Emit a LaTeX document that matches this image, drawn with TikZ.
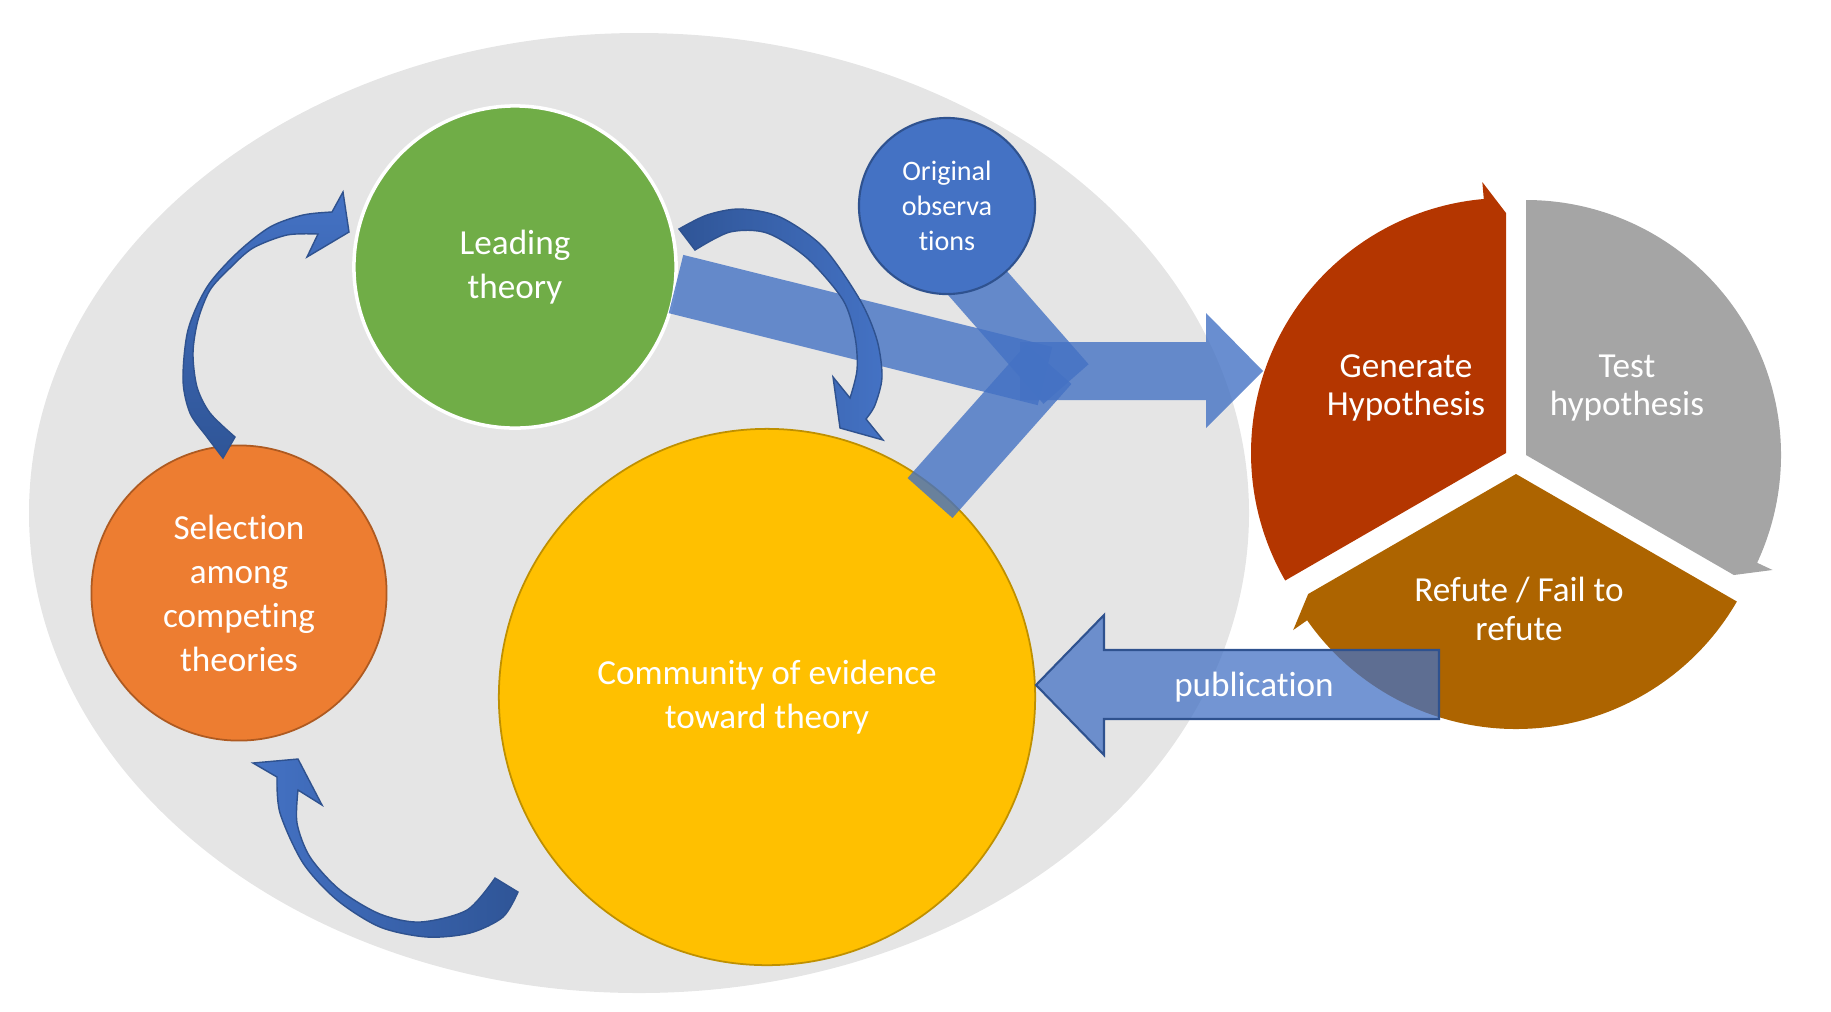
\documentclass[tikz,border=0pt]{standalone}
\usepackage{fontspec}
\setmainfont{Carlito}[Ligatures=NoCommon]
\usepackage{xcolor}
\usepackage{tikz}

\definecolor{accblue}{HTML}{4472C4}
\definecolor{accdark}{HTML}{2F528F}
\definecolor{arrdark}{HTML}{2F5597}
\definecolor{leadgreen}{HTML}{70AD47}
\definecolor{selorange}{HTML}{ED7D31}
\definecolor{selborder}{HTML}{AE5A21}
\definecolor{commyellow}{HTML}{FFC000}
\definecolor{commborder}{HTML}{BF9000}
\definecolor{bggray}{HTML}{E5E5E5}
\definecolor{genred}{HTML}{B43600}
\definecolor{testgray}{HTML}{A5A5A5}
\definecolor{refbrown}{HTML}{AD6400}

\begin{document}
\begin{tikzpicture}[
    x=0.01cm, y=-0.01cm,
    bubble/.style={circle,inner sep=0pt,text=white,align=center,
                   font=\fontsize{10}{12.5}\selectfont},
    band/.style={draw=accblue,draw opacity=0.8,line width=0.6cm},
    bigarrow/.style={fill=accblue,fill opacity=0.8},
    curvy/.style={draw=accdark,line width=0.4pt},
    slicetext/.style={text=white,align=center,font=\fontsize{10}{11}\selectfont},
  ]
  \useasboundingbox (0,0) rectangle (1831,1011);

  % --- background ---
  \fill[bggray] (639,513) ellipse [x radius=610, y radius=480];

  % --- theory circles ---
  \node[bubble,fill=leadgreen,draw=white,line width=1pt,minimum size=3.22cm]
        (lead) at (515,267) {Leading\\theory};
  \node[bubble,fill=selorange,draw=selborder,line width=0.5pt,minimum size=2.95cm]
        (sel) at (239,593) {Selection\\among\\competing\\theories};
  \node[bubble,fill=commyellow,draw=commborder,line width=0.5pt,minimum size=5.36cm]
        (comm) at (767,697) {Community of evidence\\toward theory};

  % --- bands into the cycle ---
  \coordinate (gtail) at (676,284);
  \coordinate (ghead) at (1045,376);
  \coordinate (otail) at (910,206);
  \coordinate (ohead) at (1066,384);
  \coordinate (ctail) at (930,498);
  \coordinate (chead) at (1049,364);
  \draw[band] (gtail) -- (ghead);
  \draw[band] (ctail) -- (chead);
  \draw[band] (otail) -- (ohead);

  \node[bubble,fill=accblue,draw=accdark,line width=0.6pt,minimum size=1.76cm,
        font=\fontsize{8}{9.9}\selectfont]
        (obs) at (947,206) {Original\\observa\\tions};

  \path[bigarrow] (1020,342) -- (1206,342) -- (1206,313) -- (1263,371)
                  -- (1206,428) -- (1206,400) -- (1020,400) -- cycle;

  % --- hypothesis cycle ---
  \begin{scope}[shift={(1506,453)}]
    \fill[genred] (150:255) arc[start angle=150,end angle=265,radius=255]
      -- (265:272) -- (270:240) -- (0,0) -- cycle;
  \end{scope}
  \begin{scope}[shift={(1526,455)}]
    \fill[testgray] (270:255) arc[start angle=270,end angle=385,radius=255]
      -- (385:272) -- (390:240) -- (0,0) -- cycle;
  \end{scope}
  \begin{scope}[shift={(1516,474)}]
    \fill[refbrown] (30:255) arc[start angle=30,end angle=145,radius=255]
      -- (145:272) -- (150:240) -- (0,0) -- cycle;
  \end{scope}
  \node[slicetext] (gen)  at (1406,388) {Generate\\Hypothesis};
  \node[slicetext] (test) at (1627,388) {Test\\hypothesis};
  \node[slicetext] (refu) at (1519,609) {Refute / Fail to\\refute};

  % --- publication back to the community ---
  \path[fill=accblue,fill opacity=0.75,draw=accdark,line width=0.6pt]
    (1036,685) -- (1104,615) -- (1104,650) -- (1439,650) -- (1439,719)
    -- (1104,719) -- (1104,755) -- cycle;
  \node[text=white,font=\fontsize{10}{12.2}\selectfont] (pub) at (1254,687) {publication};

  % --- curved arrows of the theory loop ---
  \draw[curvy,top color=accblue,bottom color=arrdark]
    plot[smooth] coordinates {(223,458) (207,437) (190,413) (183,380) (188,330)
                              (207,287) (237,253) (270,227) (303,215) (332,212)}
    -- (343,192) -- (349,232) -- (307,257) -- (318,234)
    -- plot[smooth] coordinates {(318,234) (287,235) (253,248) (230,268) (210,290)
                                 (198,320) (193,353) (197,387) (210,413) (235,437)}
    -- cycle;
  \draw[curvy,left color=arrdark,right color=accblue]
    plot[smooth] coordinates {(679,229) (707,215) (740,209) (780,217) (823,247)
                              (860,300) (877,340) (882,377) (875,405) (866,419)}
    -- (883,440) -- (840,428) -- (833,377) -- (850,398)
    -- plot[smooth] coordinates {(850,398) (857,370) (855,337) (843,300) (807,258)
                                 (767,233) (730,232) (695,250)}
    -- cycle;
  \draw[curvy,left color=accblue,right color=arrdark]
    plot[smooth] coordinates {(518,892) (503,917) (470,933) (427,937) (380,927)
                              (337,900) (303,863) (280,813) (277,777)}
    -- (253,763) -- (298,759) -- (322,805) -- (298,790)
    -- plot[smooth] coordinates {(298,790) (297,823) (310,857) (340,890)
                                 (380,914) (420,922) (467,910) (495,878)}
    -- cycle;

\end{tikzpicture}
\end{document}
